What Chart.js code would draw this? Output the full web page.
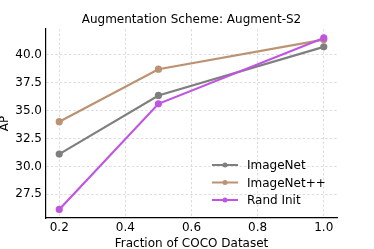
<!DOCTYPE html>
<html>
<head>
<meta charset="utf-8">
<script src="https://cdn.jsdelivr.net/npm/chart.js@4/dist/chart.umd.min.js"></script>
<style>
  html, body { margin: 0; padding: 0; background: #fff; }
  #wrap { width: 374px; height: 249px; }
</style>
</head>
<body>
<div id="wrap"><canvas id="augChart"></canvas></div>
<script>
const fractions = [0.2, 0.5, 1.0];
const imagenet = [31.1, 36.35, 40.7];
const imagenetPP = [34.0, 38.7, 41.35];
const randInit = [26.15, 35.6, 41.5];
const seriesNames = ['ImageNet', 'ImageNet++', 'Rand Init'];
const seriesColors = ['#7f7f7f', '#bb9272', '#bf55e0'];
const xTicks = [0.2, 0.4, 0.6, 0.8, 1.0];
const yTicks = [27.5, 30.0, 32.5, 35.0, 37.5, 40.0];
const chartTitle = 'Augmentation Scheme: Augment-S2';

const font = 'DejaVu Sans';
Chart.defaults.font.family = font;
Chart.defaults.color = '#000';

const toPoints = vals => vals.map((v, i) => ({ x: fractions[i], y: v }));

// title centred over the plot area, like matplotlib does
const plotTitle = {
  id: 'plotTitle',
  afterDraw(chart) {
    const c = chart.ctx;
    const area = chart.chartArea;
    c.save();
    c.font = '12px ' + font;
    c.fillStyle = '#000';
    c.textAlign = 'center';
    c.textBaseline = 'middle';
    c.fillText(chartTitle, (area.left + area.right) / 2, 20);
    c.restore();
  }
};

// matplotlib-style legend in the lower right of the plot area
const innerLegend = {
  id: 'innerLegend',
  afterDatasetsDraw(chart) {
    const c = chart.ctx;
    const area = chart.chartArea;
    const x0 = area.left + 166, y0 = area.top + 136;
    c.save();
    c.font = '12px ' + font;
    c.textBaseline = 'middle';
    chart.data.datasets.forEach((ds, i) => {
      const y = y0 + i * 17.5;
      c.strokeStyle = ds.borderColor;
      c.lineWidth = 2;
      c.beginPath();
      c.moveTo(x0, y);
      c.lineTo(x0 + 26, y);
      c.stroke();
      c.fillStyle = ds.borderColor;
      c.beginPath();
      c.arc(x0 + 13, y, 2.5, 0, Math.PI * 2);
      c.fill();
      c.fillStyle = '#000';
      c.fillText(ds.label, x0 + 35, y + 1);
    });
    c.restore();
  }
};

new Chart(document.getElementById('augChart').getContext('2d'), {
  type: 'line',
  data: {
    datasets: [imagenet, imagenetPP, randInit].map((vals, i) => ({
      label: seriesNames[i],
      data: toPoints(vals),
      borderColor: seriesColors[i],
      backgroundColor: seriesColors[i],
      borderWidth: 2.2,
      pointRadius: 2.5,
      pointHoverRadius: 2.5,
      tension: 0,
      order: 2 - i
    }))
  },
  options: {
    responsive: true,
    maintainAspectRatio: false,
    animation: false,
    layout: { padding: { left: 0, right: 37, top: 29, bottom: 0 } },
    plugins: {
      legend: { display: false },
      tooltip: { enabled: false },
      title: { display: false }
    },
    scales: {
      x: {
        type: 'linear',
        min: 0.16,
        max: 1.04,
        afterBuildTicks: s => { s.ticks = xTicks.map(v => ({ value: v })); },
        afterFit: s => { s.height = 31; },
        ticks: {
          font: { size: 12 },
          color: '#000',
          padding: 3,
          maxRotation: 0,
          callback: v => v.toFixed(1)
        },
        grid: { color: '#d4d4d4', lineWidth: 0.8, drawTicks: false },
        border: { display: true, color: '#000', width: 1.2, dash: [2.5, 2] },
        title: {
          display: true,
          text: 'Fraction of COCO Dataset',
          font: { size: 12 },
          color: '#000',
          padding: { top: 0, bottom: -2 }
        }
      },
      y: {
        min: 25.38,
        max: 42.3,
        afterBuildTicks: s => { s.ticks = yTicks.map(v => ({ value: v })); },
        afterFit: s => { s.width = 46; },
        ticks: {
          font: { size: 12 },
          color: '#000',
          padding: 4,
          callback: v => v.toFixed(1)
        },
        grid: { color: '#d4d4d4', lineWidth: 0.8, drawTicks: false },
        border: { display: true, color: '#000', width: 1.2, dash: [2.5, 2] },
        title: {
          display: true,
          text: 'AP',
          font: { size: 12 },
          color: '#000',
          padding: { top: -2, bottom: 0 }
        }
      }
    }
  },
  plugins: [plotTitle, innerLegend]
});
</script>
</body>
</html>
